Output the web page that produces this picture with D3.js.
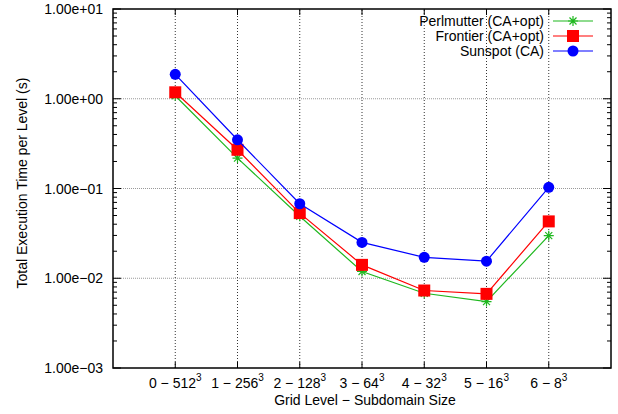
<!DOCTYPE html>
<html>
<head>
<meta charset="utf-8">
<script src="https://cdn.jsdelivr.net/npm/d3@7"></script>
<style>
  body { margin: 0; background: #fff; }
  text { font-family: "Liberation Sans", Arial, sans-serif; fill: #000; }
</style>
</head>
<body>
<svg id="chart" width="618" height="414"></svg>
<script>
// grid levels and subdomain sizes (cube edge)
const levels = [0, 1, 2, 3, 4, 5, 6];
const sizes = [512, 256, 128, 64, 32, 16, 8];

// time per level in seconds
const perlmutter = [1.08, 0.218, 0.049, 0.0119, 0.0068, 0.0055, 0.0298];
const frontier = [1.18, 0.27, 0.0532, 0.0141, 0.0073, 0.0067, 0.043];
const sunspot = [1.87, 0.349, 0.0676, 0.0251, 0.0171, 0.0155, 0.103];

const yTicks = [1e-3, 1e-2, 1e-1, 1e0, 1e1];
const yTickLabels = ["1.00e\u221203", "1.00e\u221202", "1.00e\u221201", "1.00e+00", "1.00e+01"];

const series = [
    { name: "Perlmutter (CA+opt)", values: perlmutter, color: "#1fb81f", marker: "star" },
    { name: "Frontier (CA+opt)", values: frontier, color: "#ff0000", marker: "square" },
    { name: "Sunspot (CA)", values: sunspot, color: "#0000ff", marker: "circle" }
];

const margin = { left: 113, right: 7, top: 9, bottom: 46 };
const width = 618, height = 414;

const svg = d3.select("#chart");

const x = d3.scaleLinear().domain([-1, 7]).range([margin.left, width - margin.right]);
const y = d3.scaleLog().domain([1e-3, 1e1]).range([height - margin.bottom, margin.top]);

// grid lines
const grid = svg.append("g");
grid.selectAll(".gy")
    .data(yTicks.slice(1, -1))
    .join("line")
    .attr("x1", x(-1)).attr("x2", x(7))
    .attr("y1", d => y(d)).attr("y2", d => y(d))
    .attr("stroke", "#999").attr("stroke-width", 1)
    .attr("stroke-dasharray", "1,1");
grid.selectAll(".gx")
    .data(levels)
    .join("line")
    .attr("x1", d => x(d)).attr("x2", d => x(d))
    .attr("y1", y(1e-3)).attr("y2", y(1e1))
    .attr("stroke", "#333").attr("stroke-width", 1)
    .attr("stroke-dasharray", "1,2");

// minor log ticks on left and right
const minor = [];
for (let e = -3; e < 1; e++) {
    for (let m = 2; m <= 9; m++) minor.push(m * Math.pow(10, e));
}
const ticks = svg.append("g").attr("stroke", "#000");
[x(-1), x(7)].forEach((x0, i) => {
    const dir = i === 0 ? 1 : -1;
    ticks.selectAll(null)
        .data(minor)
        .join("line")
        .attr("x1", x0).attr("x2", x0 + dir * 4)
        .attr("y1", d => y(d)).attr("y2", d => y(d));
    ticks.selectAll(null)
        .data(yTicks)
        .join("line")
        .attr("x1", x0).attr("x2", x0 + dir * 8)
        .attr("y1", d => y(d)).attr("y2", d => y(d));
});
ticks.selectAll(null)
    .data(levels)
    .join("line")
    .attr("x1", d => x(d)).attr("x2", d => x(d))
    .attr("y1", y(1e-3)).attr("y2", y(1e-3) - 6);
ticks.selectAll(null)
    .data(levels)
    .join("line")
    .attr("x1", d => x(d)).attr("x2", d => x(d))
    .attr("y1", y(1e1)).attr("y2", y(1e1) + 6);

// frame
svg.append("rect")
    .attr("x", x(-1)).attr("y", y(1e1))
    .attr("width", x(7) - x(-1)).attr("height", y(1e-3) - y(1e1))
    .attr("fill", "none").attr("stroke", "#000").attr("stroke-width", 1.5);

// y tick labels
svg.append("g").selectAll("text")
    .data(yTicks)
    .join("text")
    .attr("x", x(-1) - 10)
    .attr("y", d => y(d) + 5)
    .attr("text-anchor", "end")
    .attr("font-size", "14px")
    .text((d, i) => yTickLabels[i]);

// x tick labels with superscript 3
const xl = svg.append("g").selectAll("text")
    .data(levels)
    .join("text")
    .attr("x", d => x(d))
    .attr("y", 388)
    .attr("text-anchor", "middle")
    .attr("font-size", "14px");
xl.append("tspan").text((d, i) => d + " \u2212 " + sizes[i]);
xl.append("tspan").attr("dy", -7).attr("font-size", "10px").text("3");

// axis titles
svg.append("text")
    .attr("x", 365).attr("y", 405)
    .attr("text-anchor", "middle")
    .attr("font-size", "14px")
    .text("Grid Level \u2212 Subdomain Size");
svg.append("text")
    .attr("transform", "translate(27,183) rotate(-90)")
    .attr("text-anchor", "middle")
    .attr("font-size", "14px")
    .text("Total Execution Time per Level (s)");

function drawMarker(g, type, color) {
    if (type === "square") {
        g.append("rect").attr("x", -6).attr("y", -6).attr("width", 12).attr("height", 12).attr("fill", color);
    } else if (type === "circle") {
        g.append("circle").attr("r", 5.5).attr("fill", color);
    } else {
        const s = 5;
        const p = `M${-s},0H${s}M0,${-s}V${s}M${-s * 0.7},${-s * 0.7}L${s * 0.7},${s * 0.7}M${-s * 0.7},${s * 0.7}L${s * 0.7},${-s * 0.7}`;
        g.append("path").attr("d", p).attr("stroke", color).attr("stroke-width", 1.2).attr("fill", "none");
    }
}

const line = d3.line().x((d, i) => x(levels[i])).y(d => y(d));

series.forEach(s => {
    svg.append("path")
        .datum(s.values)
        .attr("d", line)
        .attr("fill", "none")
        .attr("stroke", s.color)
        .attr("stroke-width", 1.2);
    s.values.forEach((v, i) => {
        const g = svg.append("g").attr("transform", `translate(${x(levels[i])},${y(v)})`);
        drawMarker(g, s.marker, s.color);
    });
});

// legend
series.forEach((s, i) => {
    const ly = 21 + i * 15;
    svg.append("text")
        .attr("x", 544).attr("y", ly + 5)
        .attr("text-anchor", "end")
        .attr("font-size", "14px")
        .text(s.name);
    svg.append("line")
        .attr("x1", 553).attr("x2", 593)
        .attr("y1", ly).attr("y2", ly)
        .attr("stroke", s.color).attr("stroke-width", 1.2);
    const g = svg.append("g").attr("transform", `translate(573,${ly})`);
    drawMarker(g, s.marker, s.color);
});
</script>
</body>
</html>
